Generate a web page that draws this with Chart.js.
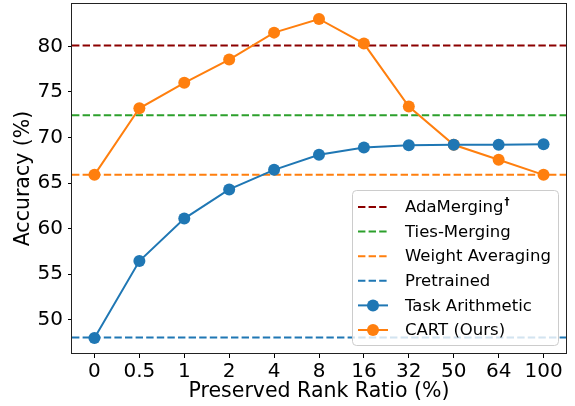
<!DOCTYPE html>
<html>
<head>
<meta charset="utf-8">
<script src="https://cdn.jsdelivr.net/npm/chart.js@4.4.1/dist/chart.umd.min.js"></script>
<style>
  html, body { margin: 0; padding: 0; background: #fff; }
  #wrap { width: 575px; height: 406px; position: relative; }
</style>
</head>
<body>
<div id="wrap"><canvas id="chart"></canvas></div>
<script>
// data
const categories = ['0', '0.5', '1', '2', '4', '8', '16', '32', '50', '64', '100'];
const taskArithmetic = [48.0, 56.45, 61.1, 64.3, 66.45, 68.1, 68.9, 69.15, 69.2, 69.2, 69.25];
const cart = [65.9, 73.2, 76.0, 78.55, 81.5, 83.0, 80.3, 73.4, 69.2, 67.55, 65.9];
const baselineNames = ['AdaMerging\u2020', 'Ties-Merging', 'Weight Averaging', 'Pretrained'];
const baselineValues = [80.1, 72.45, 65.9, 48.05];
const baselineColors = ['#8b0000', '#2ca02c', '#ff7f0e', '#1f77b4'];
const yTicks = [50, 55, 60, 65, 70, 75, 80];

Chart.defaults.font.family = '"DejaVu Sans", sans-serif';
Chart.defaults.color = '#000';

// dashed reference lines across the whole plot width
const baselinePlugin = {
    id: 'baselines',
    beforeDatasetsDraw(chart) {
        const { ctx, chartArea: a, scales: { y } } = chart;
        ctx.save();
        ctx.beginPath(); ctx.rect(a.left, a.top, a.width, a.height); ctx.clip();
        baselineValues.forEach((v, i) => {
            const py = y.getPixelForValue(v);
            ctx.strokeStyle = baselineColors[i];
            ctx.lineWidth = 2;
            ctx.setLineDash([7.4, 3.2]);
            ctx.beginPath(); ctx.moveTo(a.left, py); ctx.lineTo(a.right, py); ctx.stroke();
        });
        ctx.restore();
    }
};

// box spines + legend inside the axes (lower right)
const framePlugin = {
    id: 'frameLegend',
    afterDraw(chart) {
        const { ctx, chartArea: a } = chart;
        ctx.save();
        ctx.strokeStyle = '#222'; ctx.lineWidth = 1;
        ctx.strokeRect(Math.round(a.left) - 0.5, Math.round(a.top) + 0.5, Math.round(a.width) + 1, Math.round(a.height) - 1);

        const w = 206, h = 155;
        const lx = a.right - 8 - w, ly = a.bottom - 9 - h;
        ctx.fillStyle = 'rgba(255,255,255,0.8)';
        ctx.strokeStyle = '#cccccc';
        ctx.beginPath(); ctx.roundRect(lx + 0.5, ly + 0.5, w, h, 4); ctx.fill(); ctx.stroke();

        const items = baselineNames.map((n, i) => ({ label: n, color: baselineColors[i], dashed: true }))
            .concat(chart.data.datasets.map(d => ({ label: d.label, color: d.borderColor, dashed: false })));
        items.forEach((it, i) => {
            const cy = ly + 17 + i * 24.6;
            ctx.strokeStyle = it.color; ctx.lineWidth = 2;
            ctx.setLineDash(it.dashed ? [7.4, 3.2] : []);
            ctx.beginPath(); ctx.moveTo(lx + 6, cy); ctx.lineTo(lx + 36, cy); ctx.stroke();
            ctx.setLineDash([]);
            if (!it.dashed) {
                ctx.fillStyle = it.color;
                ctx.beginPath(); ctx.arc(lx + 21, cy, 6, 0, Math.PI * 2); ctx.fill();
            }
            ctx.fillStyle = '#000';
            ctx.textBaseline = 'middle';
            ctx.font = '16.5px "DejaVu Sans"';
            let txt = it.label, sup = '';
            if (txt.endsWith('\u2020')) { sup = '\u2020'; txt = txt.slice(0, -1); }
            ctx.fillText(txt, lx + 53, cy + 1);
            if (sup) {
                const tw = ctx.measureText(txt).width;
                ctx.font = 'bold 10px "DejaVu Sans"';
                ctx.fillText(sup, lx + 54 + tw, cy - 5);
            }
        });
        ctx.restore();
    }
};

new Chart(document.getElementById('chart'), {
    type: 'line',
    data: {
        labels: categories,
        datasets: [
            { label: 'Task Arithmetic', data: taskArithmetic, borderColor: '#1f77b4', backgroundColor: '#1f77b4',
              borderWidth: 2, pointRadius: 6, pointBorderWidth: 0, tension: 0 },
            { label: 'CART (Ours)', data: cart, borderColor: '#ff7f0e', backgroundColor: '#ff7f0e',
              borderWidth: 2, pointRadius: 6, pointBorderWidth: 0, tension: 0 }
        ]
    },
    options: {
        responsive: true, maintainAspectRatio: false, animation: false,
        layout: { autoPadding: false, padding: { top: 3, right: 9, left: 0, bottom: 0 } },
        plugins: { legend: { display: false }, tooltip: { enabled: false } },
        scales: {
            x: {
                offset: true,
                grid: { drawOnChartArea: false, tickLength: 4, color: '#000' },
                border: { display: false },
                ticks: { font: { size: 20 }, padding: 2, maxRotation: 0 },
                title: { display: true, text: 'Preserved Rank Ratio (%)', font: { size: 20.5 }, padding: { top: 0, bottom: 2 } },
                afterFit(s) { s.height = 52; s.paddingLeft = 0; s.paddingRight = 0; }
            },
            y: {
                min: 46.25, max: 84.75,
                afterBuildTicks(s) { s.ticks = yTicks.map(v => ({ value: v })); },
                grid: { drawOnChartArea: false, tickLength: 4, color: '#000' },
                border: { display: false },
                ticks: { font: { size: 20 }, padding: 5 },
                title: { display: true, text: 'Accuracy (%)', font: { size: 20.5 }, padding: { top: 11, bottom: 0 } },
                afterFit(s) { s.width = 72; s.paddingTop = 0; s.paddingBottom = 0; }
            }
        }
    },
    plugins: [baselinePlugin, framePlugin]
});
</script>
</body>
</html>
